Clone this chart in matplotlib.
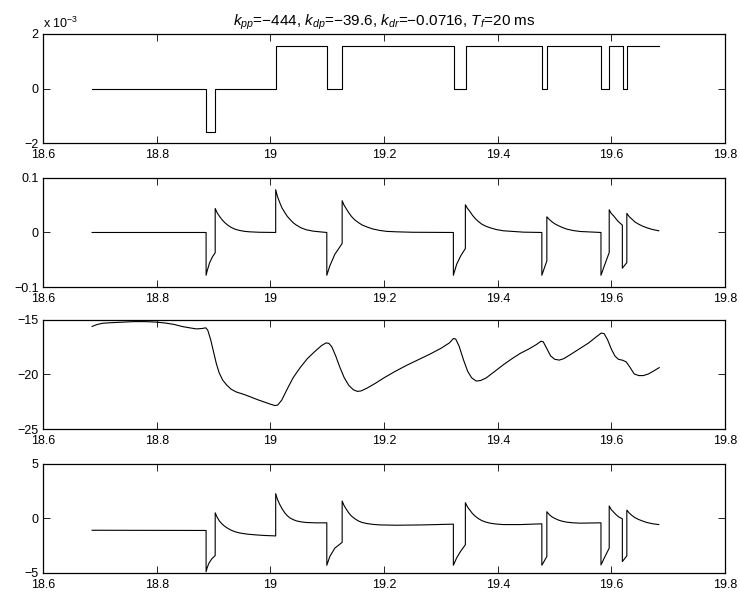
import numpy as np
import matplotlib
matplotlib.use('Agg')
import matplotlib.pyplot as plt

plt.rcParams['font.family'] = ['Liberation Sans', 'DejaVu Sans']
plt.rcParams['font.size'] = 9
plt.rcParams['mathtext.fontset'] = 'custom'
plt.rcParams['mathtext.rm'] = 'Liberation Sans'
plt.rcParams['mathtext.it'] = 'Liberation Sans:italic'
plt.rcParams['mathtext.sf'] = 'Liberation Sans'

# x axis (same on all panels)
x_ticks = [18.6, 18.8, 19.0, 19.2, 19.4, 19.6, 19.8]
x_labels = ['18.6', '18.8', '19', '19.2', '19.4', '19.6', '19.8']

# panel 1: switching signal (x 10^-3), step breakpoints
u_t = [18.6865, 18.887, 18.9035, 19.010, 19.0998, 19.1264, 19.3235, 19.3443,
       19.4773, 19.4865, 19.5821, 19.5963, 19.6196, 19.627, 19.6836]
u_v = [0, -1.58, 0, 1.55, 0, 1.55, 0, 1.55, 0, 1.55, 0, 1.55, 0, 1.55, 1.55]

# panel 2
r_t = [18.6865, 18.887, 18.887, 18.889, 18.893, 18.898, 18.903,
       18.903, 18.9065, 18.9107, 18.915, 18.9195, 18.925, 18.9313, 18.938, 18.946,
       18.955, 18.9636, 18.98, 19.0094,
       19.0094, 19.0125, 19.0164, 19.0205, 19.0253, 19.0295, 19.0341, 19.040,
       19.0458, 19.054, 19.0634, 19.075, 19.0869, 19.0993,
       19.0993, 19.1046, 19.1134, 19.1263,
       19.1263, 19.1297, 19.1339, 19.138, 19.1427, 19.148, 19.1545, 19.161,
       19.1692, 19.18, 19.1927, 19.205, 19.222, 19.25, 19.3219,
       19.3219, 19.3278, 19.3348, 19.343,
       19.343, 19.3468, 19.3513, 19.3555, 19.3601, 19.3655, 19.3718, 19.379,
       19.3865, 19.397, 19.41, 19.4452, 19.4775,
       19.4775, 19.4863,
       19.4863, 19.4905, 19.4952, 19.5005, 19.5069, 19.514, 19.5216, 19.533,
       19.5451, 19.5815,
       19.5815, 19.5885, 19.596,
       19.596, 19.5995, 19.6036, 19.608, 19.6124, 19.6191,
       19.6191, 19.627,
       19.627, 19.6312, 19.6359, 19.641, 19.6476, 19.655, 19.6623, 19.672, 19.6831]
r_v = [0, 0, -0.0785, -0.070, -0.056, -0.045, -0.037,
       0.044, 0.036, 0.0294, 0.0235, 0.0184, 0.0135, 0.0092, 0.006, 0.0037,
       0.002, 0.0012, 0.0004, 0.0,
       0.0785, 0.066, 0.0552, 0.045, 0.0368, 0.030, 0.0245, 0.018,
       0.0135, 0.0085, 0.0049, 0.0025, 0.0012, 0.0,
       -0.0785, -0.0613, -0.040, -0.0202,
       0.0583, 0.050, 0.0429, 0.036, 0.0294, 0.0235, 0.0184, 0.014,
       0.0104, 0.0065, 0.0037, 0.002, 0.0012, 0.0004, 0.0,
       -0.0785, -0.058, -0.043, -0.0294,
       0.0509, 0.044, 0.038, 0.0315, 0.0258, 0.0205, 0.0153, 0.0115,
       0.0086, 0.0055, 0.0031, 0.0006, 0.0,
       -0.0785, -0.0521,
       0.0288, 0.024, 0.0196, 0.0158, 0.0123, 0.009, 0.0061, 0.0035,
       0.0018, 0.0,
       -0.0785, -0.058, -0.0368,
       0.0417, 0.035, 0.0307, 0.025, 0.0196, 0.0135,
       -0.0656, -0.0552,
       0.035, 0.029, 0.0245, 0.0195, 0.0153, 0.0115, 0.0086, 0.0055, 0.0031]

# panel 3
p_t = [18.6865, 18.695, 18.705, 18.720, 18.740, 18.760, 18.780, 18.800, 18.815,
       18.830, 18.845, 18.858, 18.870, 18.880, 18.8865, 18.890, 18.895, 18.900,
       18.905, 18.910, 18.916, 18.923, 18.931, 18.940, 18.952, 18.964, 18.977,
       18.989, 19.000, 19.008, 19.013, 19.020, 19.030, 19.040, 19.052, 19.065,
       19.078, 19.090, 19.098, 19.103, 19.108, 19.115, 19.122, 19.130, 19.138,
       19.146, 19.153, 19.160, 19.170, 19.185, 19.200, 19.220, 19.240, 19.260,
       19.280, 19.300, 19.315, 19.322, 19.326, 19.332, 19.340, 19.347, 19.354,
       19.362, 19.370, 19.380, 19.395, 19.410, 19.425, 19.440, 19.455, 19.468,
       19.476, 19.480, 19.486, 19.493, 19.500, 19.508, 19.516, 19.530, 19.545,
       19.560, 19.572, 19.582, 19.587, 19.593, 19.600, 19.606, 19.612, 19.620,
       19.626, 19.632, 19.640, 19.648, 19.656, 19.665, 19.675, 19.684]
p_v = [-15.59, -15.42, -15.30, -15.25, -15.20, -15.15, -15.15, -15.20, -15.28,
       -15.40, -15.60, -15.72, -15.82, -15.78, -15.72, -15.95, -16.80, -17.90,
       -19.00, -19.85, -20.50, -20.95, -21.35, -21.60, -21.80, -22.03, -22.30,
       -22.52, -22.72, -22.85, -22.80, -22.35, -21.30, -20.30, -19.40, -18.55,
       -17.90, -17.35, -17.10, -17.15, -17.45, -18.30, -19.30, -20.30, -21.00,
       -21.40, -21.55, -21.50, -21.25, -20.80, -20.30, -19.70, -19.15, -18.65,
       -18.15, -17.60, -17.10, -16.70, -16.75, -17.40, -18.70, -19.70, -20.30,
       -20.60, -20.55, -20.30, -19.70, -19.10, -18.55, -18.05, -17.65, -17.25,
       -16.95, -17.00, -17.60, -18.30, -18.60, -18.68, -18.55, -18.10, -17.60,
       -17.10, -16.60, -16.20, -16.25, -16.80, -17.70, -18.30, -18.60, -18.70,
       -18.85, -19.30, -19.95, -20.10, -20.10, -19.95, -19.65, -19.37]

# panel 4
q_t = [18.6865, 18.887, 18.887, 18.889, 18.892, 18.897, 18.903,
       18.903, 18.9065, 18.9107, 18.915, 18.9195, 18.925, 18.9313, 18.938, 18.946,
       18.96, 18.9754, 18.99, 19.0094,
       19.0094, 19.0125, 19.0164, 19.0205, 19.0253, 19.0295, 19.0341, 19.040,
       19.0458, 19.054, 19.0634, 19.08, 19.0993,
       19.0993, 19.1046, 19.1134, 19.1263,
       19.1263, 19.1297, 19.1339, 19.138, 19.1427, 19.148, 19.1545, 19.161,
       19.1692, 19.18, 19.1927, 19.222, 19.269, 19.3219,
       19.3219, 19.3278, 19.3348, 19.343,
       19.343, 19.3468, 19.3513, 19.3555, 19.3601, 19.3655, 19.3718, 19.379,
       19.3865, 19.397, 19.41, 19.44, 19.4775,
       19.4775, 19.4863,
       19.4863, 19.4905, 19.4952, 19.5005, 19.5069, 19.514, 19.5216, 19.533,
       19.5451, 19.5815,
       19.5815, 19.5885, 19.596,
       19.596, 19.5995, 19.6036, 19.608, 19.6124, 19.6191,
       19.6191, 19.627,
       19.627, 19.6312, 19.6359, 19.641, 19.6476, 19.655, 19.6623, 19.672, 19.6831]
q_v = [-1.08, -1.10, -4.88, -4.50, -4.10, -3.70, -3.40,
       0.52, 0.10, -0.25, -0.50, -0.71, -0.90, -1.08, -1.22, -1.33,
       -1.44, -1.51, -1.56, -1.60,
       2.28, 1.75, 1.30, 0.90, 0.52, 0.27, 0.06, -0.10,
       -0.22, -0.31, -0.37, -0.40, -0.40,
       -4.29, -3.49, -2.72, -2.19,
       1.60, 1.18, 0.83, 0.50, 0.22, 0.0, -0.22, -0.36,
       -0.46, -0.54, -0.59, -0.62, -0.59, -0.52,
       -4.29, -3.60, -3.00, -2.41,
       1.45, 1.05, 0.74, 0.45, 0.22, 0.0, -0.19, -0.33,
       -0.43, -0.51, -0.56, -0.56, -0.49,
       -4.29, -3.49,
       0.62, 0.36, 0.15, 0.0, -0.15, -0.26, -0.34, -0.40,
       -0.43, -0.40,
       -4.26, -3.50, -2.72,
       1.14, 0.82, 0.59, 0.35, 0.15, -0.03,
       -3.95, -3.43,
       0.77, 0.50, 0.28, 0.08, -0.09, -0.24, -0.37, -0.48, -0.56]

y_lims = [(-2, 2), (-0.1, 0.1), (-25, -15), (-5, 5)]
y_ticks = [[-2, 0, 2], [-0.1, 0, 0.1], [-25, -20, -15], [-5, 0, 5]]
y_labels = [['\u22122', '0', '2'], ['\u22120.1', '0', '0.1'],
            ['\u221225', '\u221220', '\u221215'], ['\u22125', '0', '5']]

fig = plt.figure(figsize=(7.4, 5.92), dpi=100)
left, width = 0.058, 0.922
bottoms = [0.7584, 0.5152, 0.2753, 0.0321]
height = 0.1842
series = [(u_t, u_v), (r_t, r_v), (p_t, p_v), (q_t, q_v)]

axes = []
for i in range(4):
    ax = fig.add_axes([left, bottoms[i], width, height])
    t, v = series[i]
    if i == 0:
        ax.plot(t, v, color='black', linewidth=0.8, drawstyle='steps-post')
    else:
        ax.plot(t, v, color='black', linewidth=0.8)
    ax.set_xlim(18.6, 19.8)
    ax.set_ylim(*y_lims[i])
    ax.set_xticks(x_ticks)
    ax.set_xticklabels(x_labels)
    ax.set_yticks(y_ticks[i])
    ax.set_yticklabels(y_labels[i])
    ax.tick_params(direction='in', top=True, right=True, length=5, width=0.6,
                   labelsize=9, pad=3)
    ax.tick_params(axis='x', pad=4)
    for s in ax.spines.values():
        s.set_linewidth(0.9)
    axes.append(ax)

axes[0].set_title('$k_{pp}$=\u2212444, $k_{dp}$=\u221239.6, $k_{dr}$=\u22120.0716, $T_f$=20 ms',
                  fontsize=11, pad=6)
axes[0].text(0.0, 1.03, r'x 10$^{\mathrm{-3}}$', transform=axes[0].transAxes,
             fontsize=9, ha='left', va='bottom')

fig.savefig('out.png', dpi=100)
